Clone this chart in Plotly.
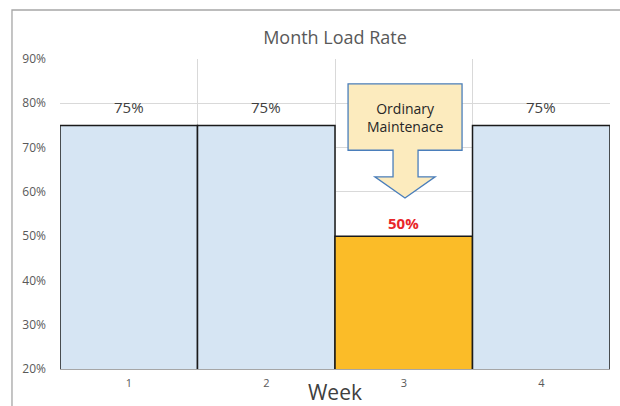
import plotly.graph_objects as go

weeks = [1, 2, 3, 4]
load_rate = [75, 75, 50, 75]
bar_colors = ['#D6E5F3', '#D6E5F3', '#FBBC28', '#D6E5F3']
label_colors = ['#404040', '#404040', '#E8262A', '#404040']
callout_text = 'Ordinary<br>Maintenace'

fig = go.Figure()
fig.add_trace(go.Bar(x=weeks, y=load_rate, width=1,
                     marker=dict(color=bar_colors, line=dict(color='#1a1a1a', width=1.5)),
                     hoverinfo='y'))

for w, v, c in zip(weeks, load_rate, label_colors):
    highlight = c != '#404040'
    fig.add_annotation(x=w, y=v, text=f'<b>{v}%</b>' if highlight else f'{v}%', showarrow=False,
                       yshift=13 if highlight else 18,
                       font=dict(size=15, color=c, family='Open Sans'))

# callout arrow (down-arrow shaped box)
box = dict(x0=2.595, x1=3.424, y0=69.4, y1=84.4)
stem = (2.922, 3.104)
head = (2.79, 3.228)
path = (f"M {box['x0']},{box['y1']} L {box['x1']},{box['y1']} L {box['x1']},{box['y0']} "
        f"L {stem[1]},{box['y0']} L {stem[1]},63.4 L {head[1]},63.4 L 3.009,58.6 "
        f"L {head[0]},63.4 L {stem[0]},63.4 L {stem[0]},{box['y0']} L {box['x0']},{box['y0']} Z")
fig.add_shape(type='path', path=path, xref='x', yref='y',
              fillcolor='#FCEBBE', line=dict(color='#4A7EBB', width=1.3))
fig.add_annotation(x=3.01, y=76.9, text=callout_text, showarrow=False,
                   font=dict(size=14, color='#262626', family='Open Sans'))

# outer chart border
fig.add_shape(type='rect', xref='paper', yref='paper', x0=-0.0873, x1=1.05, y0=-0.2, y1=1.158,
              line=dict(color='#A6A6A6', width=1.3), layer='below')

fig.update_layout(
    width=620, height=406,
    margin=dict(l=60, r=10, t=59, b=37, autoexpand=False),
    paper_bgcolor='white', plot_bgcolor='white',
    showlegend=False,
    title=dict(text='Month Load Rate', x=0.5, xanchor='center', y=1 - 38 / 406, yanchor='middle',
               xref='paper', font=dict(size=18, color='#595959', family='Open Sans')),
    xaxis=dict(range=[0.5, 4.5], tickvals=[0.5, 1.5, 2.5, 3.5, 4.5],
               ticktext=[str(w) for w in weeks] + [''], ticklabelshift=69,
               ticklabelstandoff=4,
               showgrid=True, gridcolor='#D9D9D9', gridwidth=1, zeroline=False,
               showline=True, linecolor='#A6A6A6', linewidth=1.3, automargin=False,
               tickfont=dict(size=11, color='#595959', family='Open Sans'),
               title=dict(text='Week', standoff=0,
                          font=dict(size=21, color='#404040', family='Open Sans'))),
    yaxis=dict(range=[20, 90], dtick=10, ticksuffix='%', showgrid=True, gridcolor='#D9D9D9',
               zeroline=False, tickfont=dict(size=12, color='#595959', family='Open Sans'),
               ticklabelstandoff=13, automargin=False),
)

fig.write_html("out.html", config={'displayModeBar': False},
               post_script="document.body.style.margin='0';document.body.style.overflow='hidden';")
